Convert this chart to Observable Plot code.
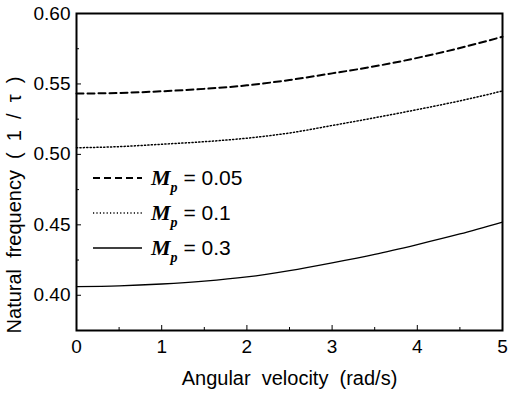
<!DOCTYPE html>
<html><head><meta charset="utf-8">
<script src="https://cdn.jsdelivr.net/npm/d3@7"></script>
<script src="https://cdn.jsdelivr.net/npm/@observablehq/plot@0.6"></script>
<style>
body{margin:0;background:#fff;}
#wrap{position:relative;width:508px;height:393px;font-family:"Liberation Sans",Arial,sans-serif;}
.row{position:absolute;height:30px;display:flex;align-items:center;}
.lbl{font-size:21px;color:#000;white-space:pre;}
.m{font-family:"Liberation Serif","Times New Roman",serif;font-weight:bold;font-style:italic;font-size:22px;}
.p{font-family:"Liberation Serif","Times New Roman",serif;font-weight:bold;font-style:italic;font-size:14px;position:relative;top:7px;}
</style></head><body><div id="wrap"></div>
<script>
// angular velocity (rad/s)
const omega = [0, 0.5, 1, 1.5, 2, 2.5, 3, 3.5, 4, 4.5, 5];
// natural frequency (1/tau)
const mp005 = [0.5432, 0.5436, 0.5448, 0.5465, 0.5490, 0.5528, 0.5575, 0.5625, 0.5685, 0.5755, 0.5835];
const mp01  = [0.5047, 0.5055, 0.5072, 0.5090, 0.5115, 0.5152, 0.5205, 0.5260, 0.5318, 0.5380, 0.5450];
const mp03  = [0.4062, 0.4067, 0.4080, 0.4100, 0.4130, 0.4175, 0.4230, 0.4290, 0.4360, 0.4435, 0.4520];
const seriesNames = ["0.05", "0.1", "0.3"];
const xTicks = [0, 1, 2, 3, 4, 5];
const xMinor = [0.5, 1.5, 2.5, 3.5, 4.5];
const yTicks = [0.40, 0.45, 0.50, 0.55, 0.60];
const yMinor = [0.425, 0.475, 0.525, 0.575];
const xTitle = "Angular\u00a0\u00a0velocity\u00a0\u00a0(rad/s)";
const yTitle = "Natural\u00a0\u00a0frequency\u00a0\u00a0(\u00a0\u00a01\u00a0\u00a0/\u00a0\u00a0\u03c4\u00a0\u00a0)";

const styles = [
  {dash: "7,4", width: 2},
  {dash: "1.2,2.2", width: 1.5},
  {dash: null, width: 1.3}
];
const allSeries = [mp005, mp01, mp03];
const table = allSeries.flatMap((s, i) => s.map((v, j) => ({x: omega[j], y: v, k: i})));

const marks = [
  Plot.axisX(xTicks, {tickSize: -5, tickPadding: 14, fontSize: 19, tickFormat: d => String(d)}),
  Plot.axisX(xMinor, {tickSize: -3, tickFormat: () => ""}),
  Plot.axisY(yTicks, {tickSize: -5, tickPadding: 11, fontSize: 19, tickFormat: d3.format(".2f")}),
  Plot.axisY(yMinor, {tickSize: -3, tickFormat: () => ""}),
  ...styles.map((st, i) => Plot.line(table.filter(d => d.k === i), {
    x: "x", y: "y", stroke: "black", strokeWidth: st.width,
    strokeDasharray: st.dash, curve: "monotone-x"
  })),
  Plot.frame({stroke: "black", strokeWidth: 2}),
  Plot.text([xTitle], {text: d => d, frameAnchor: "bottom", textAnchor: "middle", dy: 54, fontSize: 20}),
  Plot.text([yTitle], {text: d => d, frameAnchor: "left", textAnchor: "middle", rotate: -90, dx: -62, dy: 33, fontSize: 20})
];

const chart = Plot.plot({
  width: 508, height: 393,
  marginLeft: 76, marginRight: 6, marginTop: 13, marginBottom: 63,
  x: {domain: [0, 5], label: null},
  y: {domain: [0.375, 0.60], label: null},
  style: {fontFamily: '"Liberation Sans", Arial, sans-serif', color: "black", background: "white"},
  marks
});
const wrap = document.getElementById("wrap");
wrap.appendChild(chart);

// legend
seriesNames.forEach((name, i) => {
  const row = document.createElement("div");
  row.className = "row";
  row.style.left = "93px";
  row.style.top = (178 + 35 * i - 15) + "px";
  const st = styles[i];
  row.innerHTML = `<svg width="50" height="30"><line x1="0" x2="49" y1="15" y2="15" stroke="black" stroke-width="${st.width}" ${st.dash ? `stroke-dasharray="${st.dash}"` : ""}/></svg>` +
    `<span class="lbl" style="margin-left:8px"><span class="m">M</span><span class="p">p</span> = ${name}</span>`;
  wrap.appendChild(row);
});
</script></body></html>
